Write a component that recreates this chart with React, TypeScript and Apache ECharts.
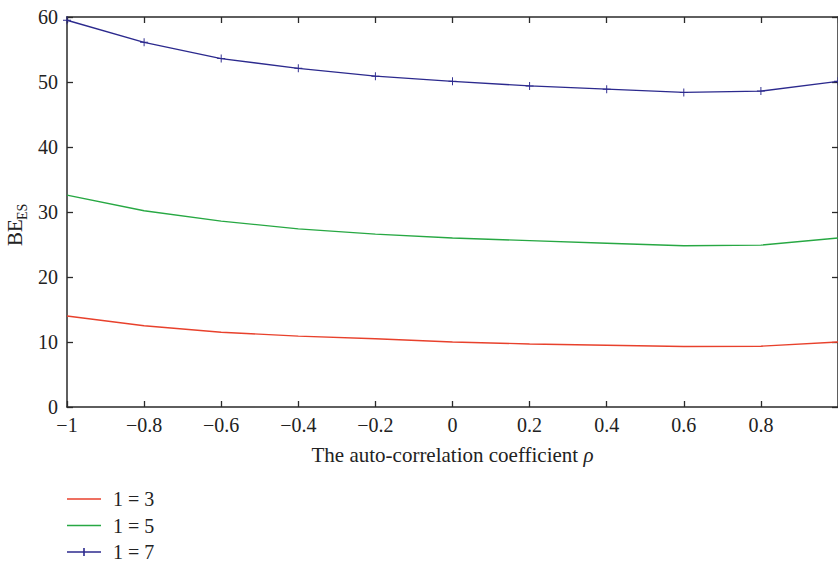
import React, { useEffect, useRef } from "react";
import * as echarts from "echarts";

const rhoValues = [-1, -0.8, -0.6, -0.4, -0.2, 0, 0.2, 0.4, 0.6, 0.8, 1];
const seriesNames = ["1 = 3", "1 = 5", "1 = 7"];
const l3Values = [14.0, 12.5, 11.5, 10.9, 10.5, 10.0, 9.7, 9.5, 9.3, 9.35, 10.0];
const l5Values = [32.6, 30.2, 28.6, 27.4, 26.6, 26.0, 25.6, 25.2, 24.8, 24.9, 26.0];
const l7Values = [59.5, 56.1, 53.6, 52.1, 50.9, 50.1, 49.4, 48.9, 48.4, 48.6, 50.1];
const seriesColors = ["#e8412c", "#27a843", "#2c2a8e"];

const FONT = "'Liberation Serif', 'DejaVu Serif', serif";
const AXIS_COLOR = "#2a2a2a";

const fmtNum = (v: number) => {
  const r = Math.round(v * 10) / 10;
  return String(r).replace("-", "\u2212");
};

export default function App() {
  const ref = useRef<HTMLDivElement>(null);
  useEffect(() => {
    document.body.style.margin = "0";
    if (!ref.current) return;
    const chart = echarts.init(ref.current, undefined, { renderer: "svg" });
    const toPairs = (vals: number[]) => rhoValues.map((x, i) => [x, vals[i]]);
    const axisLine = { show: true, onZero: false, lineStyle: { color: AXIS_COLOR, width: 1.5 } };
    const axisTick = { show: true, inside: true, length: 6, lineStyle: { color: AXIS_COLOR, width: 1.3 } };
    const cross =
      "path://M-0.12,-1 H0.12 V-0.12 H1 V0.12 H0.12 V1 H-0.12 V0.12 H-1 V-0.12 H-0.12 Z";

    const legendTop = 499;
    const legendGap = 26.5;
    const legendGraphics: any[] = [];
    seriesNames.forEach((name, i) => {
      const y = legendTop + i * legendGap;
      legendGraphics.push({
        type: "line",
        shape: { x1: 67, y1: y, x2: 101, y2: y },
        style: { stroke: seriesColors[i], lineWidth: 1.4 },
      });
      if (i === 2) {
        legendGraphics.push({
          type: "line",
          shape: { x1: 84, y1: y - 4, x2: 84, y2: y + 4 },
          style: { stroke: seriesColors[i], lineWidth: 1.6 },
        });
      }
      legendGraphics.push({
        type: "text",
        x: 113,
        y: y,
        style: {
          text: name,
          font: `20px ${FONT}`,
          fill: "#222",
          verticalAlign: "middle",
          align: "left",
        },
      });
    });

    chart.setOption({
      animation: false,
      backgroundColor: "#ffffff",
      grid: { left: 67, top: 17, width: 773, height: 390, containLabel: false },
      xAxis: [
        {
          type: "value",
          min: -1,
          max: 1,
          interval: 0.2,
          position: "bottom",
          axisLine,
          axisTick,
          splitLine: { show: false },
          axisLabel: {
            formatter: fmtNum,
            fontFamily: FONT,
            fontSize: 20,
            color: "#222",
            margin: 8,
            showMaxLabel: false,
          },
          name: "{a|The auto-correlation coefficient }{b|\u03c1}",
          nameLocation: "middle",
          nameGap: 37,
          nameTextStyle: {
            rich: {
              a: { fontFamily: FONT, fontSize: 21, color: "#222" },
              b: { fontFamily: FONT, fontSize: 21, color: "#222", fontStyle: "italic" },
            },
          },
        },
        {
          type: "value",
          min: -1,
          max: 1,
          interval: 0.2,
          position: "top",
          axisLine,
          axisTick,
          axisLabel: { show: false },
          splitLine: { show: false },
        },
      ],
      yAxis: [
        {
          type: "value",
          min: 0,
          max: 60,
          interval: 10,
          position: "left",
          axisLine,
          axisTick,
          splitLine: { show: false },
          axisLabel: {
            formatter: fmtNum,
            fontFamily: FONT,
            fontSize: 20,
            color: "#222",
            margin: 9,
          },
        },
        {
          type: "value",
          min: 0,
          max: 60,
          interval: 10,
          position: "right",
          axisLine,
          axisTick,
          axisLabel: { show: false },
          splitLine: { show: false },
        },
      ],
      graphic: [
        {
          type: "group",
          x: 15,
          y: 246,
          rotation: Math.PI / 2,
          children: [
            {
              type: "text",
              x: 0,
              y: 0,
              style: {
                text: "BE",
                font: `21px ${FONT}`,
                fill: "#222",
                verticalAlign: "middle",
                align: "left",
              },
            },
            {
              type: "text",
              x: 26,
              y: 7,
              style: {
                text: "ES",
                font: `14px ${FONT}`,
                fill: "#222",
                verticalAlign: "middle",
                align: "left",
              },
            },
          ],
        },
        ...legendGraphics,
      ],
      series: [
        {
          name: seriesNames[0],
          type: "line",
          data: toPairs(l3Values),
          symbol: "none",
          color: seriesColors[0],
          lineStyle: { width: 1.4, color: seriesColors[0] },
        },
        {
          name: seriesNames[1],
          type: "line",
          data: toPairs(l5Values),
          symbol: "none",
          color: seriesColors[1],
          lineStyle: { width: 1.4, color: seriesColors[1] },
        },
        {
          name: seriesNames[2],
          type: "line",
          data: toPairs(l7Values),
          symbol: cross,
          symbolSize: 8,
          showAllSymbol: true,
          color: seriesColors[2],
          itemStyle: { color: seriesColors[2] },
          lineStyle: { width: 1.4, color: seriesColors[2] },
        },
      ],
    });
    return () => chart.dispose();
  }, []);
  return <div ref={ref} style={{ width: 838, height: 562 }} />;
}
